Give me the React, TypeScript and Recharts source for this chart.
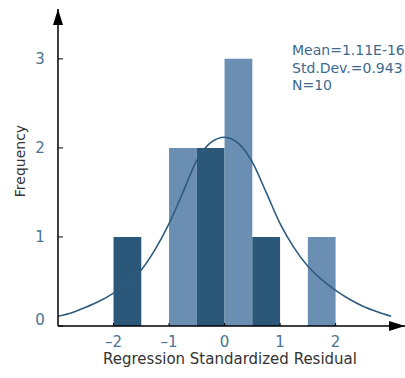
import React from 'react';
import { ComposedChart, Line, XAxis, YAxis, ReferenceArea, ReferenceDot } from 'recharts';

// histogram bins (residual ranges) and frequencies
const binStart = [-2, -1, -0.5, 0, 0.5, 1.5];
const binEnd = [-1.5, -0.5, 0, 0.5, 1, 2];
const binCount = [1, 2, 2, 3, 1, 1];
const binShade = ['dark', 'light', 'dark', 'light', 'dark', 'light'];

// normal curve
const curveX = [-3, -2.75, -2.5, -2.25, -2, -1.75, -1.5, -1.25, -1, -0.75, -0.5, -0.25, 0, 0.25, 0.5, 0.75, 1, 1.25, 1.5, 1.75, 2, 2.25, 2.5, 2.75, 3];
const curveY = [0.11, 0.15, 0.21, 0.28, 0.37, 0.48, 0.63, 0.86, 1.15, 1.5, 1.86, 2.06, 2.12, 2.05, 1.84, 1.5, 1.15, 0.88, 0.67, 0.52, 0.4, 0.3, 0.22, 0.16, 0.11];

const xTicks = [-2, -1, 0, 1, 2];
const yTicks = [0, 1, 2, 3];

const statLines = ['Mean=1.11E-16', 'Std.Dev.=0.943', 'N=10'];

const DARK = '#2b5779';
const LIGHT = '#6b8fb2';
const LABEL = '#4a7494';
const FONT = '"DejaVu Sans", sans-serif';

const data = curveX.map((x, i) => ({ x, density: curveY[i] }));

const YTick = (props: any) => {
  const { x, y, payload } = props;
  return (
    <g>
      <line x1={x} x2={x + 5} y1={y} y2={y} stroke="#000" />
      <text x={x - 18} y={payload.value === 0 ? y - 1 : y + 5} textAnchor="middle" fontSize={15} fill={LABEL} fontFamily={FONT}>
        {payload.value}
      </text>
    </g>
  );
};

const XTick = (props: any) => {
  const { x, y, payload } = props;
  return (
    <g>
      <line x1={x} x2={x} y1={y} y2={y - 3} stroke="#000" />
      <text x={x} y={y + 21} textAnchor="middle" fontSize={15} fill={LABEL} fontFamily={FONT}>
        {payload.value < 0 ? '\u2013' + Math.abs(payload.value) : payload.value}
      </text>
    </g>
  );
};

const ArrowRight = (props: any) => {
  const { cx, cy } = props;
  return <polygon points={`${cx},${cy} ${cx - 16},${cy - 5} ${cx - 16},${cy + 5}`} fill="#000" />;
};

const ArrowUp = (props: any) => {
  const { cx, cy } = props;
  return <polygon points={`${cx},${cy} ${cx - 5},${cy + 16} ${cx + 5},${cy + 16}`} fill="#000" />;
};

export default function App() {
  return (
    <div style={{ position: 'absolute', left: 0, top: 0, width: 405, height: 378, background: '#fff' }}>
      <ComposedChart width={405} height={378} data={data} margin={{ top: 9, right: 0, bottom: 0, left: 0 }}>
        <XAxis
          dataKey="x"
          type="number"
          domain={[-3, 3.25]}
          ticks={xTicks}
          allowDataOverflow
          axisLine={{ stroke: '#000', strokeWidth: 1.5 }}
          tickLine={false}
          tickSize={0}
          tickMargin={0}
          tick={<XTick />}
          height={52}
        />
        <YAxis
          type="number"
          domain={[0, 3.56]}
          ticks={yTicks}
          allowDataOverflow
          axisLine={{ stroke: '#000', strokeWidth: 1.5 }}
          tickLine={false}
          tickSize={0}
          tickMargin={0}
          tick={<YTick />}
          width={58}
        />
        {binStart.map((s, i) => (
          <ReferenceArea
            key={i}
            x1={s}
            x2={binEnd[i]}
            y1={0}
            y2={binCount[i]}
            fill={binShade[i] === 'dark' ? DARK : LIGHT}
            fillOpacity={1}
            stroke="none"
          />
        ))}
        <Line type="monotone" dataKey="density" stroke="#2e5b7e" strokeWidth={1.6} dot={false} isAnimationActive={false} />
        <ReferenceDot x={3.25} y={0} r={0} ifOverflow="visible" shape={<ArrowRight />} />
        <ReferenceDot x={-3} y={3.56} r={0} ifOverflow="visible" shape={<ArrowUp />} />
      </ComposedChart>
      <div style={{ position: 'absolute', left: 0, top: 351, width: 460, textAlign: 'center', fontFamily: FONT, fontSize: 15, lineHeight: '16px', color: '#333' }}>
        Regression Standardized Residual
      </div>
      <div
        style={{
          position: 'absolute',
          left: 20,
          top: 161,
          transform: 'translate(-50%, -50%) rotate(-90deg)',
          fontFamily: FONT,
          fontSize: 14,
          color: '#333',
          whiteSpace: 'nowrap',
        }}
      >
        Frequency
      </div>
      <div style={{ position: 'absolute', left: 292, top: 42, fontFamily: FONT, fontSize: 14, lineHeight: '17.5px', color: '#3d6a8e' }}>
        {statLines.map((t) => (
          <div key={t}>{t}</div>
        ))}
      </div>
    </div>
  );
}
